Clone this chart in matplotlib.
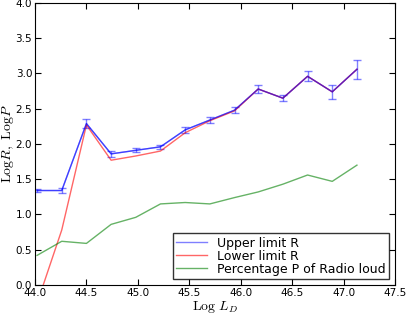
import matplotlib
matplotlib.use('Agg')
import matplotlib.pyplot as plt
import numpy as np

plt.rcParams['mathtext.fontset'] = 'cm'

# log L_D bins
logLD = [44.02, 44.26, 44.50, 44.74, 44.98, 45.22, 45.46, 45.70, 45.94,
         46.17, 46.41, 46.65, 46.89, 47.13]
upperR = [1.34, 1.34, 2.29, 1.86, 1.91, 1.96, 2.20, 2.34, 2.48,
          2.78, 2.65, 2.96, 2.74, 3.06]
upperErr = [0.02, 0.03, 0.07, 0.04, 0.03, 0.03, 0.04, 0.04, 0.04,
            0.05, 0.04, 0.07, 0.10, 0.135]
lowerR = [-0.26, 0.78, 2.27, 1.77, 1.83, 1.90, 2.16, 2.33, 2.47,
          2.78, 2.65, 2.96, 2.74, 3.06]
percP = [0.42, 0.62, 0.59, 0.86, 0.96, 1.15, 1.17, 1.15, 1.24,
         1.32, 1.43, 1.56, 1.47, 1.70]

fig = plt.figure(figsize=(4.07, 3.19), dpi=100)
ax = fig.add_axes([0.086, 0.1066, 0.8845, 0.884])

ax.plot(logLD, upperR, 'b-', alpha=0.5, lw=1, label='Upper limit R')
ax.errorbar(logLD, upperR, yerr=upperErr, fmt='b-', alpha=0.5, lw=1,
            capsize=3, ecolor='b')
ax.plot(logLD, lowerR, 'r-', alpha=0.6, lw=1, label='Lower limit R')
ax.plot(logLD, percP, 'g-', alpha=0.6, lw=1,
        label='Percentage P of Radio loud')

ax.set_xlim(44.0, 47.5)
ax.set_ylim(0.0, 4.0)
ax.set_xticks(np.arange(44.0, 47.51, 0.5))
ax.set_yticks(np.arange(0.0, 4.01, 0.5))
ax.tick_params(direction='in', top=True, right=True, labelsize=7.5,
               length=4, pad=2)
ax.set_xlabel(r'$\mathrm{Log}\ L_D$', fontsize=10, labelpad=1)
ax.set_ylabel(r'$\mathrm{Log}R,\ \mathrm{Log}P$', fontsize=10)
ax.yaxis.set_label_coords(-0.052, 0.5)

leg = ax.legend(loc='lower right', fontsize=9, fancybox=False,
                borderaxespad=0.5, handlelength=2.5, labelspacing=0.0,
                borderpad=0.25)
leg.get_frame().set_edgecolor('black')

fig.savefig('out.png', dpi=100)
